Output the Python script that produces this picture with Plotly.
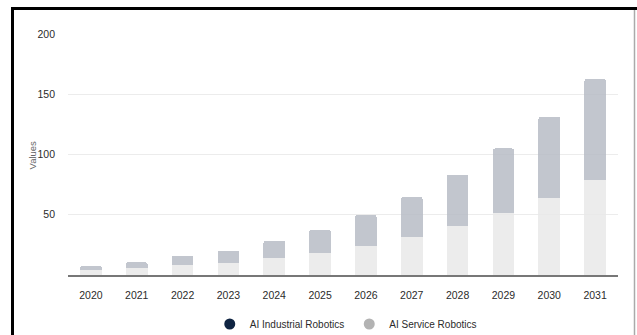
import plotly.graph_objects as go

years = ["2020", "2021", "2022", "2023", "2024", "2025",
         "2026", "2027", "2028", "2029", "2030", "2031"]
industrial = [4.4, 6.1, 8.3, 10.3, 14.4, 18.6, 24.4, 31.7, 40.8, 51.4, 63.6, 78.9]
service = [3.4, 4.5, 7.5, 9.7, 13.9, 18.9, 25.3, 33.0, 42.2, 53.6, 67.8, 83.6]

series_names = ["AI Industrial Robotics", "AI Service Robotics"]
legend_colors = ["#0f2442", "#b3b3b3"]
bar_colors = ["rgba(232,232,232,0.82)", "rgba(180,186,195,0.82)"]

y_ticks = [50, 100, 150, 200]

W, H = 637, 335
ML, MR, MT, MB = 68, 19, 33, 60
pw, ph = W - ML - MR, H - MT - MB


def px(x):
    return (x - ML) / pw


def py(y):
    return (H - MB - y) / ph


fig = go.Figure()

for name, vals, col in zip(series_names, [industrial, service], bar_colors):
    fig.add_trace(go.Bar(x=years, y=vals, name=name, marker_color=col,
                         marker_line_width=0, showlegend=False,
                         hoverinfo="x+y+name"))

# Legend entries shown as round markers
for name, col in zip(series_names, legend_colors):
    fig.add_trace(go.Scatter(x=[None], y=[None], mode="markers", name=name,
                             marker=dict(color=col, size=11, symbol="circle")))

font_family = "Liberation Sans, Arial, sans-serif"
text_col = "#2b2b2b"

fig.update_layout(
    width=W, height=H,
    margin=dict(l=ML, r=MR, t=MT, b=MB, autoexpand=False),
    paper_bgcolor="white", plot_bgcolor="white",
    barmode="stack", bargap=0.53, barcornerradius=2,
    font=dict(family=font_family, size=10, color=text_col),
    showlegend=True,
    legend=dict(orientation="h", x=0.505, xanchor="center", y=py(324),
                yanchor="middle", traceorder="normal",
                font=dict(size=10, color=text_col),
                itemwidth=30, tracegroupgap=0, bgcolor="rgba(0,0,0,0)"),
    xaxis=dict(showgrid=False, showline=True, linecolor="#777777", linewidth=1.5,
               ticks="", ticklabelstandoff=10,
               tickfont=dict(size=10.5, color=text_col), zeroline=False),
    yaxis=dict(range=[0, 200.8], tickvals=y_ticks, showgrid=True,
               gridcolor="#ececec", gridwidth=1, zeroline=False, showline=False,
               ticks="", ticklabelstandoff=12,
               tickfont=dict(size=10.5, color=text_col)),
)

fig.add_annotation(text="Values", textangle=-90, xref="paper", yref="paper",
                   x=px(24), y=py(155), showarrow=False,
                   font=dict(size=9.5, color="#666666"))

# Frame around the figure
fig.add_shape(type="line", xref="paper", yref="paper",
              x0=px(12.5), x1=px(12.5), y0=py(7), y1=py(345),
              line=dict(color="black", width=3))
fig.add_shape(type="line", xref="paper", yref="paper",
              x0=px(11), x1=px(645), y0=py(8.5), y1=py(8.5),
              line=dict(color="black", width=3))
fig.add_shape(type="line", xref="paper", yref="paper",
              x0=px(634.5), x1=px(634.5), y0=py(10), y1=py(345),
              line=dict(color="#aaaaaa", width=1.5))

fig.write_html("out.html")
